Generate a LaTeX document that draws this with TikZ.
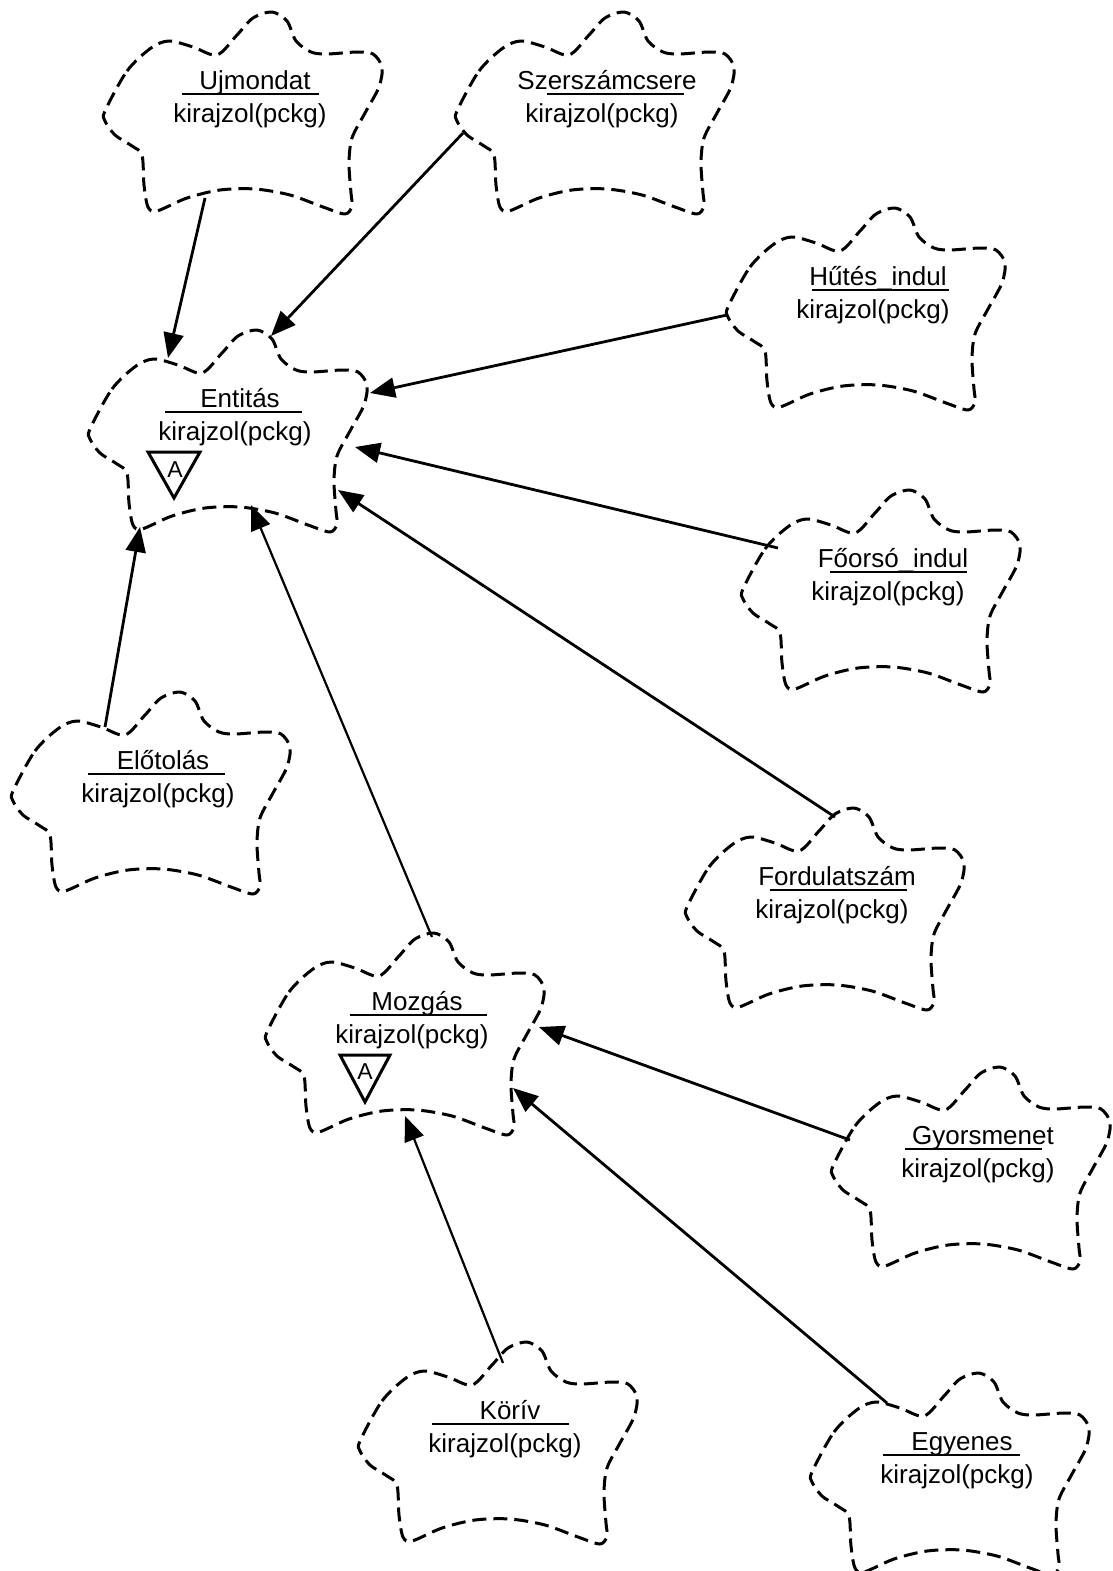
\documentclass[tikz,border=0pt]{standalone}
\usepackage{fontspec}
\setmainfont{Liberation Sans}
\usetikzlibrary{calc,arrows.meta}
\tikzset{
  cloudline/.style={line width=3pt, dash pattern=on 14pt off 7pt, line join=round},
  cloudbox/.style={inner sep=0pt, minimum width=278pt, minimum height=202pt},
  namelbl/.style={font=\fontsize{26}{30}\selectfont, anchor=base, inner sep=0pt},
  albl/.style={font=\fontsize{23}{26}\selectfont, inner sep=0pt},
  ulline/.style={line width=1.8pt},
  conn/.style={line width=2.8pt, -{Triangle[length=25pt,width=20pt]}},
  thinconn/.style={conn, line width=2.2pt},
  tri/.style={line width=3pt, line join=miter},
}
\newcommand\bcloud[4]{%
  \node[cloudbox] (#1) at (#2) {};
  \draw[cloudline, shift={(#1)}] plot[smooth cycle, tension=0.5] coordinates {
    (-140,-2) (-118,-42) (-94,-65) (-76,-72) (-52,-66) (-28,-58) (-8,-78)
    (8,-95) (27,-101) (42,-92) (51,-72) (66,-61) (82,-59) (112,-61) (128,-59) (137,-46)
    (134,-26) (120,0) (107,25) (104,50) (106,80) (107,93) (100,101) (78,94)
    (45,82) (10,76) (-25,77) (-58,85) (-88,98) (-97,94) (-101,72) (-103,42)
    (-113,33) (-130,22) (-140,8)};
  \node[namelbl] (#1-name) at ($(#1)+(10,-24)$) {#3};
  \draw[ulline] ($(#1)+(#4,-19)$) -- ($(#1)+(#4+137,-19)$);
  \node[namelbl] (#1-op) at ($(#1)+(5,9)$) {kirajzol(pckg)};
}
\begin{document}
\begin{tikzpicture}[x=1pt, y=-1pt]
\useasboundingbox (0,0) rectangle (1113,1571);

\bcloud{ujm}{245,113}{Ujmondat}{-63}
\bcloud{szc}{597,113}{Szerszámcsere}{-50}
\bcloud{hut}{868,309}{Hűtés\_indul}{-56}
\bcloud{ent}{230,431}{Entitás}{-65}
\bcloud{foo}{883,591}{Főorsó\_indul}{-53}
\bcloud{elo}{153,793}{Előtolás}{-65}
\bcloud{frd}{827,909}{Fordulatszám}{-57}
\bcloud{moz}{407,1034}{Mozgás}{-57}
\bcloud{gyo}{973,1168}{Gyorsmenet}{-68}
\bcloud{kor}{500,1443}{Körív}{-68}
\bcloud{egy}{952,1474}{Egyenes}{-69}

% abstract markers
\draw[tri] ($(ent)+(-82,21)$) -- ($(ent)+(-30,21)$) -- ($(ent)+(-56,67)$) -- cycle;
\node[albl] (ent-a) at ($(ent)+(-55,39)$) {A};
\draw[tri] ($(moz)+(-67,21)$) -- ($(moz)+(-17,21)$) -- ($(moz)+(-42,68)$) -- cycle;
\node[albl] (moz-a) at ($(moz)+(-42,38)$) {A};

% connectors
\draw[conn] ($(ujm)+(-40,85)$) -- ($(ent)+(-62,-73)$);
\draw[conn] ($(szc)+(-134,20)$) -- ($(ent)+(41,-95)$);
\draw[conn] ($(hut)+(-141,6)$) -- ($(ent)+(140,-38)$);
\draw[conn] ($(foo)+(-105,-43)$) -- ($(ent)+(125,16)$);
\draw[conn] ($(frd)+(8,-92)$) -- ($(ent)+(108,59)$);
\draw[conn] ($(elo)+(-48,-66)$) -- ($(ent)+(-90,96)$);
\draw[thinconn] ($(moz)+(25,-97)$) -- ($(ent)+(21,74)$);
\draw[conn] ($(gyo)+(-123,-28)$) -- ($(moz)+(132,-7)$);
\draw[conn] ($(egy)+(-65,-71)$) -- ($(moz)+(106,54)$);
\draw[thinconn] ($(kor)+(3,-80)$) -- ($(moz)+(-2,82)$);
\end{tikzpicture}
\end{document}
